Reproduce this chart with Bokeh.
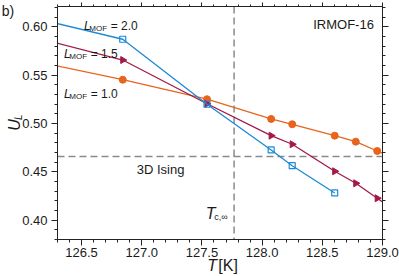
from bokeh.plotting import figure
from bokeh.models import LinearAxis, FixedTicker, NumeralTickFormatter, Span, Label, Range1d
from bokeh.embed import file_html
from bokeh.resources import INLINE
import numpy as np

# ---------------- data ----------------
temps_all = [126.142, 126.842, 127.542, 128.075, 128.25, 128.603, 128.778, 128.956, 129.131]
temps_l20 = [126.142, 126.842, 127.542, 128.075, 128.25, 128.603]
ul_l10 = [0.5638, 0.5454, 0.5252, 0.5048, 0.4993, 0.4875, 0.4813, 0.4716, 0.4621]
ul_l15 = [0.5882, 0.5658, 0.5205, 0.4875, 0.4786, 0.4506, 0.4382, 0.4227, 0.4075]
ul_l20 = [0.6082, 0.5873, 0.5200, 0.4727, 0.4564, 0.4282]
ising_ul = 0.466
tc_inf = 127.767
x_ticks = [126.5, 127.0, 127.5, 128.0, 128.5, 129.0]
y_ticks = [0.40, 0.45, 0.50, 0.55, 0.60]

FONT = "Liberation Sans"
BLUE = "#1b8ad6"
RED = "#a31a48"
ORANGE = "#e8641c"
TXT = "#1a1a1a"

p = figure(frame_width=325, frame_height=233,
           x_range=Range1d(126.3, 129.0), y_range=Range1d(0.38, 0.6212),
           output_backend="svg", toolbar_location=None,
           min_border_left=57, min_border_right=17, min_border_bottom=37, min_border_top=6)
p.grid.visible = False
p.outline_line_color = None
p.background_fill_color = "white"
p.border_fill_color = "white"

x_minor = [round(v, 2) for v in np.arange(126.3, 129.01, 0.1)]
y_minor = [round(v, 3) for v in np.arange(0.38, 0.6251, 0.01)]
xt = FixedTicker(ticks=x_ticks, minor_ticks=x_minor)
yt = FixedTicker(ticks=y_ticks, minor_ticks=y_minor)


def style_axis(ax, ticks, labels=True):
    ax.axis_line_color = "#222222"
    ax.axis_line_width = 1
    ax.major_tick_line_color = "#222222"
    ax.minor_tick_line_color = "#222222"
    ax.major_tick_in = 0
    ax.minor_tick_in = 0
    ax.major_tick_out = 6
    ax.minor_tick_out = 3
    ax.major_label_text_font = FONT
    ax.major_label_text_font_size = "13px"
    ax.major_label_text_color = TXT
    if not labels:
        ax.major_label_overrides = {t: "" for t in ticks}
        ax.major_label_standoff = 0


p.xaxis.ticker = xt
p.yaxis.ticker = yt
p.xaxis.formatter = NumeralTickFormatter(format="0.0")
p.yaxis.formatter = NumeralTickFormatter(format="0.00")
style_axis(p.xaxis[0], x_ticks)
style_axis(p.yaxis[0], y_ticks)
p.xaxis.major_label_standoff = 2
p.yaxis.major_label_standoff = 4

top = LinearAxis(ticker=xt)
style_axis(top, x_ticks, labels=False)
top.major_tick_out = 4
top.minor_tick_out = 2
p.add_layout(top, "above")
right = LinearAxis(ticker=yt)
style_axis(right, y_ticks, labels=False)
p.add_layout(right, "right")

# reference lines
p.add_layout(Span(location=tc_inf, dimension="height", line_color="#8a8a8a", line_width=1.5,
                  line_dash="7 4", level="underlay"))
p.add_layout(Span(location=ising_ul, dimension="width", line_color="#8a8a8a", line_width=1.5,
                  line_dash="7 4", level="underlay"))

# series
p.line(temps_all, ul_l10, line_color=ORANGE, line_width=1.3)
p.scatter(temps_all, ul_l10, marker="circle", size=7, fill_color=ORANGE, line_color=ORANGE)
p.line(temps_all, ul_l15, line_color=RED, line_width=1.3)
p.scatter(temps_all, ul_l15, marker="triangle", angle=-np.pi / 2, size=7, fill_color=RED, line_color=RED)
p.line(temps_l20, ul_l20, line_color=BLUE, line_width=1.3)
p.scatter(temps_l20, ul_l20, marker="square", size=6, fill_color=None, line_color=BLUE, line_width=1.2)


# ---------------- texts (positions in page pixels) ----------------
def px(x):
    return 127 + (x - 141) / 120.3


def py(y):
    return 0.60 - (y - 26) / 966


def lab(x, y, text, size, style="normal", align="left", baseline="alphabetic",
        angle=0.0, place="center"):
    lbl = Label(x=px(x), y=py(y), text=text, text_font=FONT,
                text_font_size=f"{size}px", text_font_style=style, text_align=align,
                text_baseline=baseline, angle=angle, text_color=TXT)
    if place == "center":
        p.add_layout(lbl)
    else:
        p.add_layout(lbl, place)


lab(373, 24, "IRMOF-16", 13, align="right")
lab(136, 169, "3D Ising", 13)

for (lx, ly, val) in [(83.3, 25, "2.0"), (63.3, 53.3, "1.5"), (63.3, 93.3, "1.0")]:
    lab(lx, ly, "L", 12, style="italic")
    lab(lx + 5.3, ly + 2.6, "MOF", 8)
    lab(lx + 26.7, ly, "= " + val, 12)

lab(205, 212.7, "T", 16, style="italic")
lab(213.5, 216.5, "c,\u221e", 9)

# texts outside the frame: placed in the bottom side panel (not clipped to the frame)
lab(206.5, 264.2, "T", 16, style="italic", baseline="middle", place="below")
lab(217.5, 264.2, "[K]", 16, baseline="middle", place="below")
lab(1, 10.5, "b)", 14, baseline="middle", place="below")
lab(13.5, 124, "U", 16, style="italic", align="center", baseline="middle",
    angle=np.pi / 2, place="below")
lab(17.5, 116.3, "L", 10, style="italic", align="center", baseline="middle",
    angle=np.pi / 2, place="below")

open("out.html", "w").write(file_html(p, INLINE))
